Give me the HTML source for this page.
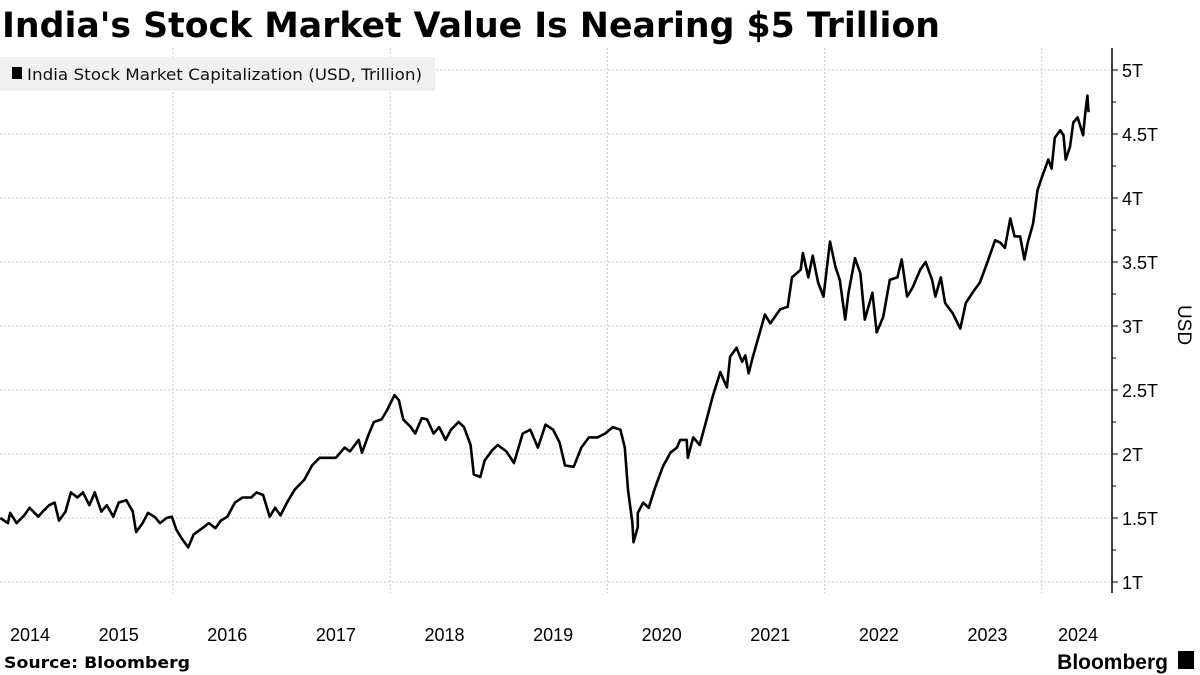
<!DOCTYPE html>
<html><head><meta charset="utf-8"><style>
html,body{margin:0;padding:0;background:#fff;}
body{width:1200px;height:675px;overflow:hidden;position:relative;font-family:"Liberation Sans",sans-serif;}
</style></head><body>
<svg id="chart" width="1200" height="675" xmlns="http://www.w3.org/2000/svg" style="position:absolute;left:0;top:0">
<text x="2" y="37" font-family="DejaVu Sans" font-weight="bold" font-size="34.5" fill="#000" textLength="938" lengthAdjust="spacingAndGlyphs">India's Stock Market Value Is Nearing $5 Trillion</text>
<g id="grid"></g>
<g id="axis"></g>
<g id="xaxis"></g>
<path id="line" fill="none" stroke="#000" stroke-width="2.6" stroke-linejoin="round"/>
<g>
<rect x="0" y="57" width="435" height="34" fill="#f0f0f0"/>
<rect x="12" y="67" width="10" height="12" fill="#000"/>
<text x="27" y="80" font-family="DejaVu Sans" font-size="16" fill="#111" textLength="395" lengthAdjust="spacingAndGlyphs">India Stock Market Capitalization (USD, Trillion)</text>
</g>
<text transform="translate(1178,325) rotate(90)" text-anchor="middle" font-size="19" fill="#000">USD</text>
<text x="4" y="668" font-family="DejaVu Sans" font-weight="bold" font-size="16" fill="#000" textLength="186" lengthAdjust="spacingAndGlyphs">Source: Bloomberg</text>
<text x="1168" y="669" text-anchor="end" font-weight="bold" font-size="21" fill="#000">Bloomberg</text>
<rect x="1178" y="651" width="16" height="18" fill="#000"/>
</svg>
<script>
const dates=[2014.41,2014.48,2014.50,2014.56,2014.63,2014.68,2014.76,2014.80,2014.86,2014.91,2014.95,2015.01,2015.06,2015.12,2015.17,2015.23,2015.28,2015.34,2015.39,2015.45,2015.50,2015.57,2015.63,2015.66,2015.72,2015.77,2015.83,2015.88,2015.94,2015.99,2016.03,2016.08,2016.14,2016.19,2016.27,2016.33,2016.39,2016.44,2016.50,2016.57,2016.64,2016.72,2016.77,2016.83,2016.89,2016.94,2016.99,2017.05,2017.12,2017.21,2017.28,2017.35,2017.43,2017.50,2017.58,2017.63,2017.71,2017.74,2017.80,2017.85,2017.92,2017.97,2018.04,2018.08,2018.12,2018.19,2018.23,2018.29,2018.34,2018.40,2018.45,2018.51,2018.56,2018.63,2018.68,2018.74,2018.77,2018.83,2018.87,2018.94,2018.99,2019.07,2019.14,2019.22,2019.29,2019.36,2019.43,2019.50,2019.56,2019.61,2019.69,2019.76,2019.83,2019.91,2019.98,2020.05,2020.12,2020.16,2020.19,2020.23,2020.24,2020.28,2020.28,2020.33,2020.38,2020.44,2020.51,2020.58,2020.64,2020.67,2020.73,2020.74,2020.79,2020.85,2020.92,2020.97,2021.04,2021.10,2021.13,2021.19,2021.24,2021.27,2021.30,2021.34,2021.39,2021.45,2021.50,2021.59,2021.66,2021.70,2021.78,2021.80,2021.85,2021.89,2021.94,2021.99,2022.05,2022.10,2022.14,2022.19,2022.22,2022.28,2022.33,2022.37,2022.44,2022.48,2022.54,2022.60,2022.67,2022.71,2022.76,2022.81,2022.88,2022.93,2022.99,2023.02,2023.07,2023.11,2023.18,2023.25,2023.30,2023.37,2023.43,2023.50,2023.57,2023.62,2023.66,2023.71,2023.75,2023.80,2023.84,2023.87,2023.92,2023.96,2024.00,2024.06,2024.09,2024.12,2024.17,2024.20,2024.22,2024.26,2024.29,2024.33,2024.38,2024.40,2024.42,2024.43];
const values=[1.50,1.46,1.54,1.46,1.52,1.58,1.51,1.55,1.60,1.62,1.48,1.55,1.70,1.66,1.70,1.60,1.70,1.55,1.60,1.51,1.62,1.64,1.55,1.39,1.46,1.54,1.51,1.46,1.50,1.51,1.41,1.34,1.27,1.37,1.42,1.46,1.42,1.48,1.51,1.62,1.66,1.66,1.70,1.68,1.51,1.58,1.52,1.62,1.72,1.80,1.91,1.97,1.97,1.97,2.05,2.02,2.11,2.01,2.15,2.25,2.27,2.34,2.46,2.42,2.27,2.21,2.16,2.28,2.27,2.16,2.21,2.11,2.19,2.25,2.21,2.07,1.84,1.82,1.95,2.03,2.07,2.02,1.93,2.16,2.19,2.05,2.23,2.19,2.09,1.91,1.90,2.05,2.13,2.13,2.16,2.21,2.19,2.05,1.72,1.46,1.31,1.43,1.54,1.62,1.58,1.74,1.90,2.01,2.05,2.11,2.11,1.97,2.13,2.07,2.29,2.45,2.64,2.52,2.76,2.83,2.72,2.77,2.63,2.76,2.91,3.09,3.02,3.13,3.15,3.38,3.44,3.57,3.38,3.55,3.34,3.23,3.66,3.46,3.36,3.05,3.26,3.53,3.41,3.05,3.26,2.95,3.07,3.36,3.38,3.52,3.23,3.30,3.44,3.50,3.36,3.23,3.38,3.18,3.10,2.98,3.18,3.27,3.34,3.50,3.67,3.65,3.61,3.84,3.70,3.70,3.52,3.65,3.80,4.06,4.16,4.30,4.23,4.47,4.53,4.49,4.30,4.40,4.59,4.63,4.49,4.66,4.80,4.67];
const yTicks=[1,1.5,2,2.5,3,3.5,4,4.5,5];
const yTickLabels=["1T","1.5T","2T","2.5T","3T","3.5T","4T","4.5T","5T"];
const xLabelYears=[2014,2015,2016,2017,2018,2019,2020,2021,2022,2023,2024];
const xGridYears=[2016,2018,2020,2022,2024];

const NS="http://www.w3.org/2000/svg";
const X0=173,PXY=108.6,AXX=1112;
function xs(t){return X0+(t-2016)*PXY;}
function ys(v){return 582-(v-1)*128;}
function mk(tag,attrs,parent){const e=document.createElementNS(NS,tag);for(const k in attrs)e.setAttribute(k,attrs[k]);parent.appendChild(e);return e;}
const grid=document.getElementById('grid'),axis=document.getElementById('axis'),xaxis=document.getElementById('xaxis');
yTicks.forEach((v,i)=>{
  const g=mk('line',{x1:0,x2:AXX,y1:ys(v),y2:ys(v),stroke:'#c8c8c8','stroke-width':1,'stroke-dasharray':'2,2'},grid);
  
  
  const t=mk('line',{x1:AXX,x2:AXX+6,y1:ys(v),y2:ys(v),stroke:'#000','stroke-width':1},axis);
  
  
  const l=mk('text',{x:AXX+10,y:ys(v)+7,'font-size':18,fill:'#000'},axis);
  l.textContent=yTickLabels[i];
  
  
});
for(let k=0;k<yTicks.length-1;k++){
  const m=(yTicks[k]+yTicks[k+1])/2;
  const t=mk('line',{x1:AXX,x2:AXX+4,y1:ys(m),y2:ys(m),stroke:'#000','stroke-width':1},axis);
  
  
}
const ax=mk('line',{x1:AXX,x2:AXX,y1:48,y2:593,stroke:'#000','stroke-width':1.5},axis);


xGridYears.forEach(yr=>{
  const g=mk('line',{x1:xs(yr),x2:xs(yr),y1:48,y2:593,stroke:'#c8c8c8','stroke-width':1,'stroke-dasharray':'2,2'},grid);
  
  
});
xLabelYears.forEach(yr=>{
  let cx=xs(yr+0.5);
  if(yr===2014)cx=30;
  if(yr===2024)cx=1078;
  const l=mk('text',{x:cx,y:641,'font-size':18,fill:'#000','text-anchor':'middle'},xaxis);
  l.textContent=String(yr);
  
  
});
let d='';
dates.forEach((t,i)=>{d+=(i?'L':'M')+xs(t).toFixed(1)+','+ys(values[i]).toFixed(1);});
document.getElementById('line').setAttribute('d',d);
</script>
</body></html>
